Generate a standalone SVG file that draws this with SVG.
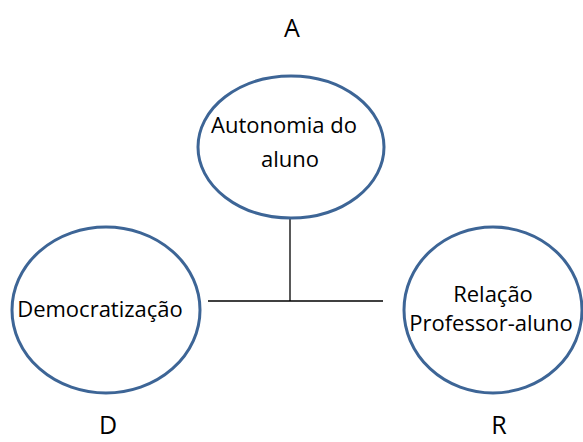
<svg xmlns="http://www.w3.org/2000/svg" width="583" height="442" viewBox="0 0 583 442">
<style>
.node{fill:#fff;stroke:#3D6596;stroke-width:3}
.t{font-family:"Open Sans","Liberation Sans",sans-serif;font-size:22px;fill:#000;text-anchor:middle}
.lbl{font-family:"Open Sans","Liberation Sans",sans-serif;font-size:25px;fill:#000;text-anchor:middle}
.c{stroke:#000;stroke-width:1.3;fill:none}
</style>
<rect width="583" height="442" fill="#fff"/>
<g id="connectors">
<line class="c" x1="290" y1="219" x2="290" y2="301"/>
<line class="c" x1="208" y1="301" x2="383" y2="301"/>
</g>
<g id="nodeA">
<ellipse class="node" cx="291" cy="147" rx="93" ry="71"/>
<text class="t" x="284" y="133">Autonomia do</text>
<text class="t" x="290" y="167">aluno</text>
</g>
<g id="nodeD">
<ellipse class="node" cx="106" cy="310" rx="94" ry="83"/>
<text class="t" x="100" y="317">Democratização</text>
</g>
<g id="nodeR">
<ellipse class="node" cx="493" cy="310" rx="89" ry="83"/>
<text class="t" x="493" y="302">Relação</text>
<text class="t" x="491" y="331">Professor-aluno</text>
</g>
<g id="labels">
<text class="lbl" x="292" y="37">A</text>
<text class="lbl" x="108" y="434">D</text>
<text class="lbl" x="499" y="434">R</text>
</g>
</svg>
